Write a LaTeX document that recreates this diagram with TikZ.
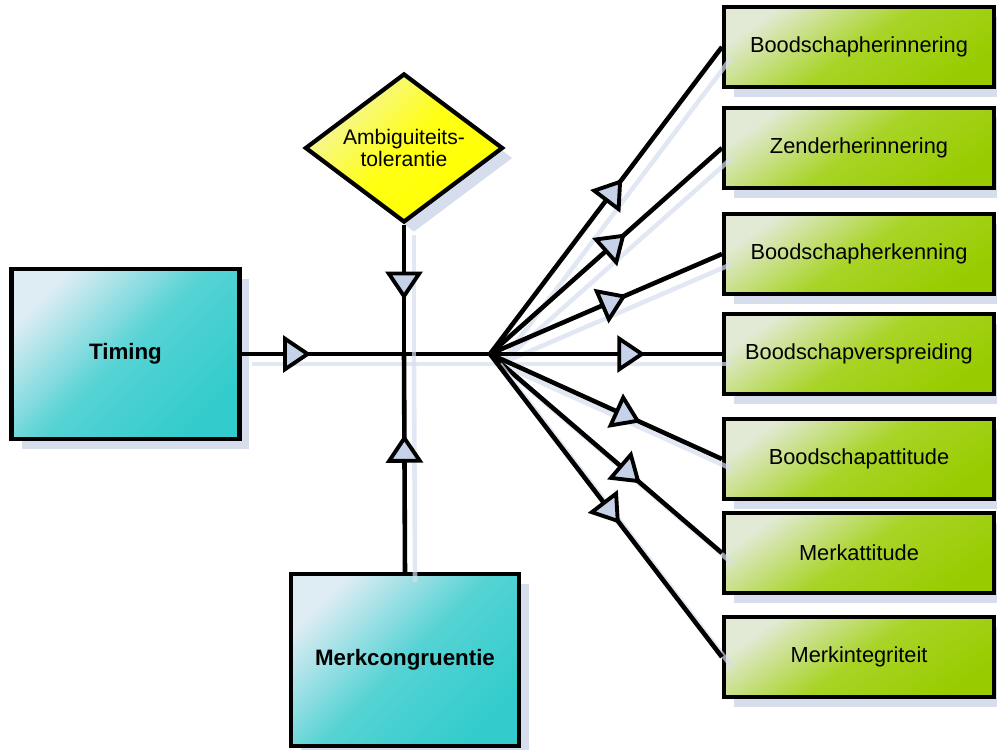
\documentclass[tikz,border=0pt]{standalone}
\usepackage{fontspec}
\setmainfont{Liberation Sans}
\usetikzlibrary{positioning, arrows.meta, shapes.geometric, shadows, decorations.markings}
\definecolor{tealdonker}{RGB}{51,204,204}
\definecolor{teallicht}{RGB}{222,236,244}
\definecolor{groendonker}{RGB}{153,204,0}
\definecolor{groenlicht}{RGB}{226,234,214}
\definecolor{geeldonker}{RGB}{255,255,0}
\definecolor{geellicht}{RGB}{244,244,170}
\definecolor{pijlblauw}{RGB}{197,210,232}
\definecolor{schaduw}{RGB}{214,222,238}
\tikzset{
  boxschaduw/.style={drop shadow={shadow xshift=0.2cm, shadow yshift=-0.2cm, fill=schaduw, opacity=1}},
  factor/.style={draw, line width=2.4pt, boxschaduw, top color=teallicht, bottom color=tealdonker,
    middle color=tealdonker!80!teallicht, shading angle=45,
    font=\fontsize{12.7}{14}\selectfont\bfseries, minimum width=4.56cm},
  uitkomst/.style={draw, line width=2.4pt, boxschaduw, top color=groenlicht, bottom color=groendonker,
    middle color=groendonker!85!white, shading angle=35,
    font=\fontsize{12.4}{14}\selectfont, minimum width=5.4cm, minimum height=1.6cm},
  moderator/.style={draw, diamond, aspect=1.33, inner sep=0pt, line width=2.4pt, boxschaduw,
    top color=geellicht, bottom color=geeldonker, middle color=geeldonker!92!white, shading angle=45,
    align=center, font=\fontsize{12}{12.6}\selectfont, minimum width=3.96cm, minimum height=2.98cm},
  wire/.style={line width=2.6pt,
    preaction={draw=schaduw, draw opacity=0.7, line width=2.6pt, transform canvas={shift={(10,10)}}}},
  pijl/.style={wire, decoration={markings, mark=at position #1 with
    {\arrow{Triangle[length=16pt, width=21pt, fill=pijlblauw, line width=2.2pt]}}},
    postaction={decorate}}
}

\begin{document}
\begin{tikzpicture}[x=0.02cm, y=-0.02cm]
    \useasboundingbox (0,0) rectangle (997,750);
    % invloeden links
    \node[factor, minimum height=3.4cm]  (timing) at (125.5, 354) {Timing};
    \node[factor, minimum height=3.44cm] (merk)   at (405, 660)   {Merkcongruentie};
    \node[moderator] (ambi) at (404, 148) {Ambiguiteits-\\tolerantie};
    \coordinate (kruis) at (404, 354);
    \coordinate (hub)   at (490, 354);
    % effecten rechts
    \node[uitkomst] (u1) at (859,  47) {Boodschapherinnering};
    \node[uitkomst] (u2) at (859, 148) {Zenderherinnering};
    \node[uitkomst] (u3) at (859, 254) {Boodschapherkenning};
    \node[uitkomst] (u4) at (859, 354) {Boodschapverspreiding};
    \node[uitkomst] (u5) at (859, 459) {Boodschapattitude};
    \node[uitkomst] (u6) at (859, 553) {Merkattitude};
    \node[uitkomst] (u7) at (859, 657) {Merkintegriteit};
    \draw[pijl=0.28] (timing.east) -- (hub);
    \draw[pijl=0.58] (ambi.south) -- (kruis);
    \draw[pijl=0.63] (merk.north) -- (kruis);
    \draw[pijl=0.57]  (hub) -- (u1.west);
    \draw[pijl=0.585] (hub) -- (u2.west);
    \draw[pijl=0.59]  (hub) -- (u3.west);
    \draw[pijl=0.67]  (hub) -- (u4.west);
    \draw[pijl=0.65]  (hub) -- (u5.west);
    \draw[pijl=0.65]  (hub) -- (u6.west);
    \draw[pijl=0.56]  (hub) -- (u7.west);
\end{tikzpicture}
\end{document}
